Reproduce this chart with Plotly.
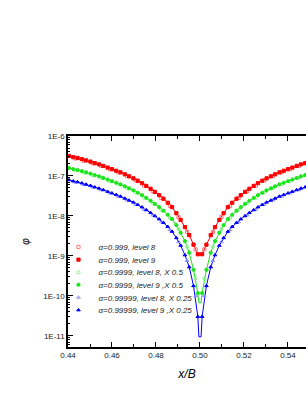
import plotly.graph_objects as go

# ---------------- data ----------------
# grid of cell centres: level 9 -> (j+0.5)/512, level 8 -> (i+0.5)/256
x9 = [(j + 0.5) / 512 for j in range(225, 285)]
x8 = [(i + 0.5) / 256 for i in range(113, 143)]
x_centre = [0.5 - 1 / 2048, 0.5 + 1 / 2048]

# values vs distance from x/B = 0.5 (curves are symmetric about 0.5)
red9_half = [1.10e-9, 1.91e-9, 3.31e-9, 5.25e-9, 7.94e-9, 1.17e-8, 1.66e-8, 2.14e-8,
             2.69e-8, 3.31e-8, 3.98e-8, 4.79e-8, 5.62e-8, 6.61e-8, 7.59e-8, 8.71e-8,
             9.77e-8, 1.10e-7, 1.23e-7, 1.35e-7, 1.48e-7, 1.62e-7, 1.78e-7, 1.95e-7,
             2.09e-7, 2.29e-7, 2.45e-7, 2.63e-7, 2.82e-7, 2.95e-7, 3.16e-7]
red8_half = [1.45e-9, 3.98e-9, 9.33e-9, 1.78e-8, 2.82e-8, 4.17e-8, 5.75e-8, 7.76e-8,
             1.00e-7, 1.23e-7, 1.48e-7, 1.78e-7, 2.09e-7, 2.40e-7, 2.75e-7]
green9_half = [1.17e-10, 4.47e-10, 1.20e-9, 2.34e-9, 3.80e-9, 5.89e-9, 8.32e-9, 1.07e-8,
               1.35e-8, 1.66e-8, 2.00e-8, 2.40e-8, 2.82e-8, 3.31e-8, 3.80e-8, 4.37e-8,
               4.90e-8, 5.50e-8, 6.17e-8, 6.76e-8, 7.41e-8, 8.13e-8, 8.91e-8, 9.77e-8,
               1.05e-7, 1.15e-7, 1.23e-7, 1.32e-7, 1.41e-7, 1.48e-7, 1.58e-7]
green8_half = [2.75e-10, 1.70e-9, 4.68e-9, 8.91e-9, 1.41e-8, 2.09e-8, 2.88e-8, 3.89e-8,
               5.01e-8, 6.17e-8, 7.41e-8, 8.91e-8, 1.05e-7, 1.20e-7, 1.38e-7]
blue9_half = [3.02e-11, 1.78e-10, 5.25e-10, 1.05e-9, 1.82e-9, 2.82e-9, 4.07e-9, 5.37e-9,
              6.76e-9, 8.32e-9, 1.00e-8, 1.20e-8, 1.41e-8, 1.66e-8, 1.91e-8, 2.19e-8,
              2.45e-8, 2.75e-8, 3.09e-8, 3.39e-8, 3.72e-8, 4.07e-8, 4.47e-8, 4.90e-8,
              5.25e-8, 5.75e-8, 6.17e-8, 6.61e-8, 7.08e-8, 7.41e-8, 7.94e-8]
blue8_half = [1.00e-10, 7.59e-10, 2.24e-9, 4.47e-9, 7.08e-9, 1.05e-8, 1.45e-8, 1.95e-8,
              2.51e-8, 3.09e-8, 3.72e-8, 4.47e-8, 5.25e-8, 6.03e-8, 6.92e-8]
# value of the continuous curve right at the centre
red_centre = 1.07e-9
green_centre = 6.7e-11
blue_centre = 9.4e-12

labels = ["α=0.999, level 8", "α=0.999, level 9",
          "α=0.9999, level 8, X 0.5", "α=0.9999, level 9 ,X 0.5",
          "α=0.99999, level 8, X 0.25", "α=0.99999, level 9 ,X 0.25"]

y_tickvals = [1e-11, 1e-10, 1e-9, 1e-8, 1e-7, 1e-6]
y_ticktext = ["1E-11", "1E-10", "1E-9", "1E-8", "1E-7", "1E-6"]
x_tickvals = [0.44, 0.46, 0.48, 0.50, 0.52, 0.54]
x_ticktext = ["0.44", "0.46", "0.48", "0.50", "0.52", "0.54"]


def full9(half):
    return list(reversed(half)) + half[:29]


def full8(half):
    return list(reversed(half)) + half


def line(half, c):
    v = full9(half)
    return x9[:31] + x_centre + x9[31:], v[:31] + [c, c] + v[31:]


RED, GREEN, BLUE = "#ff0000", "#19e619", "#0000ff"
RED_L, GREEN_L, BLUE_L = "#ff7a7a", "#8cf08c", "#8a8aff"

fig = go.Figure()
for half, c, col in [(red9_half, red_centre, RED), (green9_half, green_centre, GREEN),
                     (blue9_half, blue_centre, BLUE)]:
    lx, ly = line(half, c)
    fig.add_trace(go.Scatter(x=lx, y=ly, mode="lines", line=dict(color=col, width=1),
                             showlegend=False, hoverinfo="skip"))

series = [
    (x8, full8(red8_half), "square-open", RED_L, labels[0]),
    (x9, full9(red9_half), "square", RED, labels[1]),
    (x8, full8(green8_half), "circle-open", GREEN_L, labels[2]),
    (x9, full9(green9_half), "circle", GREEN, labels[3]),
    (x8, full8(blue8_half), "triangle-up-open", BLUE_L, labels[4]),
    (x9, full9(blue9_half), "triangle-up", BLUE, labels[5]),
]
legend_names = ["legend", "legend2", "legend3", "legend4", "legend5", "legend6"]
for (xs, ys, sym, col, name), lg in zip(series, legend_names):
    fig.add_trace(go.Scatter(x=xs, y=ys, mode="markers", name=name, legend=lg,
                             marker=dict(symbol=sym, size=3.2, color=col,
                                         line=dict(color=col, width=1))))

legend_font = dict(family="Liberation Sans, Arial, sans-serif", size=8,
                   color="#222222", style="italic")
legend_rows = [0.474, 0.414, 0.354, 0.295, 0.235, 0.175]
legend_layout = {}
for lg, yy in zip(legend_names, legend_rows):
    legend_layout[lg] = dict(x=-0.04, y=yy, xanchor="left", yanchor="middle",
                             bgcolor="rgba(0,0,0,0)", font=legend_font,
                             itemwidth=30, borderwidth=0)

fig.update_layout(
    width=306, height=396,
    margin=dict(l=68, r=0, t=136, b=49, autoexpand=False),
    paper_bgcolor="white", plot_bgcolor="white",
    font=dict(family="Liberation Sans, Arial, sans-serif", size=8, color="#222222"),
    showlegend=True,
    **legend_layout,
)
fig.update_xaxes(
    range=[0.44, 0.5482], showgrid=False, zeroline=False,
    showline=True, linecolor="black", linewidth=1.5, mirror="ticks",
    ticks="inside", ticklen=5, tickcolor="black", tickwidth=1,
    tickvals=x_tickvals, ticktext=x_ticktext,
    minor=dict(ticks="inside", ticklen=3, tickcolor="black", dtick=0.01, showgrid=False),
    title=dict(text="<i>x/B</i>", font=dict(size=12, color="black"), standoff=10),
)
fig.update_yaxes(
    type="log", range=[-11.28, -6], showgrid=False, zeroline=False,
    showline=True, linecolor="black", linewidth=1.5,
    ticks="inside", ticklen=5, tickcolor="black", tickwidth=1,
    tickvals=y_tickvals, ticktext=y_ticktext,
    minor=dict(ticks="inside", ticklen=2.5, tickcolor="black", dtick="D1", showgrid=False),
    title=dict(text="<i>φ</i>", font=dict(size=10, color="black"), standoff=12),
)

fig.write_html(
    "out.html",
    config={"displayModeBar": False},
    post_script="document.body.style.margin='0';document.body.style.overflow='hidden';",
)
